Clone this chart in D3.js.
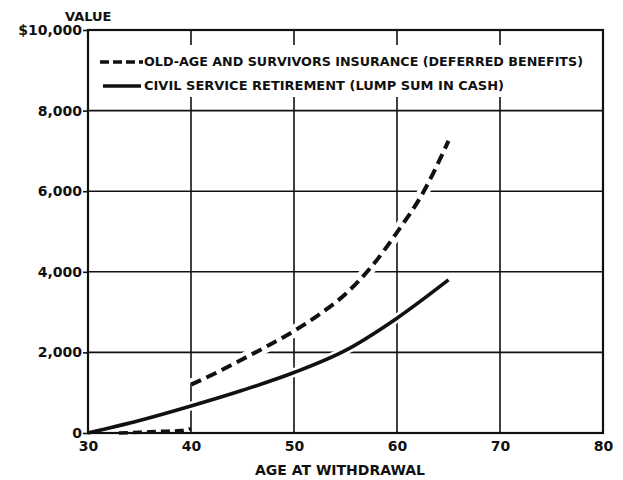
<!DOCTYPE html>
<html>
<head>
<meta charset="utf-8">
<script src="https://cdn.jsdelivr.net/npm/d3@7"></script>
<style>
  body { margin: 0; background: #fff; }
  svg { display: block; }
  text { font-family: "DejaVu Sans", sans-serif; font-weight: bold; fill: #111; }
</style>
</head>
<body>
<svg id="chart" width="623" height="480"></svg>
<script>
// ---- data ----
const ageTicks = [30, 40, 50, 60, 70, 80]
const valueTicks = [0, 2000, 4000, 6000, 8000, 10000]

// old-age and survivors insurance, small amounts before 40
const oasiAgesLow = [33, 35, 37, 39, 40]
const oasiValuesLow = [0, 20, 40, 60, 110]
// old-age and survivors insurance from 40 on
const oasiAges = [40, 42.5, 45, 47.5, 50, 52.5, 55, 57.5, 60, 62.5, 65]
const oasiValues = [1200, 1500, 1830, 2170, 2530, 2950, 3450, 4120, 4980, 5950, 7250]
// civil service retirement
const csrAges = [30, 35, 40, 45, 50, 55, 60, 65]
const csrValues = [0, 310, 670, 1060, 1500, 2050, 2850, 3800]

const legendLabels = [
  "OLD-AGE AND SURVIVORS INSURANCE (DEFERRED BENEFITS)",
  "CIVIL SERVICE RETIREMENT (LUMP SUM IN CASH)"
]

// ---- layout ----
var margin = {top: 30, right: 20, bottom: 47, left: 88},
  width = 603 - margin.left,
  height = 433 - margin.top;

var svg = d3.select("#chart")
  .append("g")
  .attr("transform", "translate(" + margin.left + "," + margin.top + ")");

var x = d3.scaleLinear().domain([30, 80]).range([0, width])
var y = d3.scaleLinear().domain([0, 10000]).range([height, 0])

// grid lines
svg.append("g")
  .selectAll("line.v")
  .data(ageTicks.slice(1, -1))
  .enter().append("line")
  .attr("x1", d => x(d)).attr("x2", d => x(d))
  .attr("y1", 0).attr("y2", height)
  .attr("stroke", "#111").attr("stroke-width", 1.6)

svg.append("g")
  .selectAll("line.h")
  .data(valueTicks.slice(1, -1))
  .enter().append("line")
  .attr("x1", 0).attr("x2", width)
  .attr("y1", d => y(d)).attr("y2", d => y(d))
  .attr("stroke", "#111").attr("stroke-width", 1.6)

// line makers
const zip = (a, b) => a.map((v, i) => [v, b[i]])
var line = d3.line()
  .x(d => x(d[0]))
  .y(d => y(d[1]))
  .curve(d3.curveMonotoneX)

const oasiLow = zip(oasiAgesLow, oasiValuesLow)
const oasi = zip(oasiAges, oasiValues)
const csr = zip(csrAges, csrValues)

// white halos where the curves cut the grid
svg.append("path").datum(oasi).attr("d", line)
  .attr("fill", "none").attr("stroke", "#fff").attr("stroke-width", 12)
svg.append("path").datum(csr.slice(1)).attr("d", line)
  .attr("fill", "none").attr("stroke", "#fff").attr("stroke-width", 9)

// legend box (covers the grid)
svg.append("rect")
  .attr("x", 6).attr("y", 15)
  .attr("width", 498).attr("height", 52)
  .attr("fill", "#fff")

// frame
svg.append("rect")
  .attr("x", 0).attr("y", 0)
  .attr("width", width).attr("height", height)
  .attr("fill", "none").attr("stroke", "#111").attr("stroke-width", 2.2)

// the curves
svg.append("path").datum(oasiLow).attr("d", line)
  .attr("fill", "none").attr("stroke", "#111").attr("stroke-width", 3.5)
  .attr("stroke-dasharray", "9,5")
svg.append("path").datum(oasi).attr("d", line)
  .attr("fill", "none").attr("stroke", "#111").attr("stroke-width", 4)
  .attr("stroke-dasharray", "11,6")
svg.append("path").datum(csr).attr("d", line)
  .attr("fill", "none").attr("stroke", "#111").attr("stroke-width", 3.6)

// axes
var yAxis = svg.append("g")
  .call(d3.axisLeft(y).tickValues(valueTicks).tickSize(5).tickPadding(1)
    .tickFormat(d => d == 10000 ? "$10,000" : d3.format(",")(d)))
yAxis.select(".domain").remove()
yAxis.selectAll("line").attr("stroke", "#111").attr("stroke-width", 1.6)
yAxis.selectAll("text").style("font-size", "14px").attr("fill", "#111")

var xAxis = svg.append("g")
  .attr("transform", "translate(0," + height + ")")
  .call(d3.axisBottom(x).tickValues(ageTicks).tickSize(0).tickPadding(8))
xAxis.select(".domain").remove()
xAxis.selectAll("text").style("font-size", "14px").attr("fill", "#111")

// titles
svg.append("text")
  .attr("x", -23).attr("y", -9)
  .style("font-size", "13px")
  .text("VALUE")

svg.append("text")
  .attr("x", 252).attr("y", 42)
  .attr("text-anchor", "middle")
  .style("font-size", "14px")
  .text("AGE AT WITHDRAWAL")
  .attr("transform", "translate(0," + height + ")")

// legend
var legend = svg.append("g")
legend.append("line")
  .attr("x1", 12).attr("x2", 55).attr("y1", 32).attr("y2", 32)
  .attr("stroke", "#111").attr("stroke-width", 3.5)
  .attr("stroke-dasharray", "9,4")
legend.append("line")
  .attr("x1", 15).attr("x2", 53).attr("y1", 56).attr("y2", 56)
  .attr("stroke", "#111").attr("stroke-width", 3.5)

legend.selectAll("text")
  .data(legendLabels)
  .enter().append("text")
  .attr("x", 56)
  .attr("y", (d, i) => 36 + i * 24)
  .attr("textLength", (d, i) => i == 0 ? 439 : 360)
  .attr("lengthAdjust", "spacingAndGlyphs")
  .style("font-size", "11.5px")
  .text(d => d)
</script>
</body>
</html>
